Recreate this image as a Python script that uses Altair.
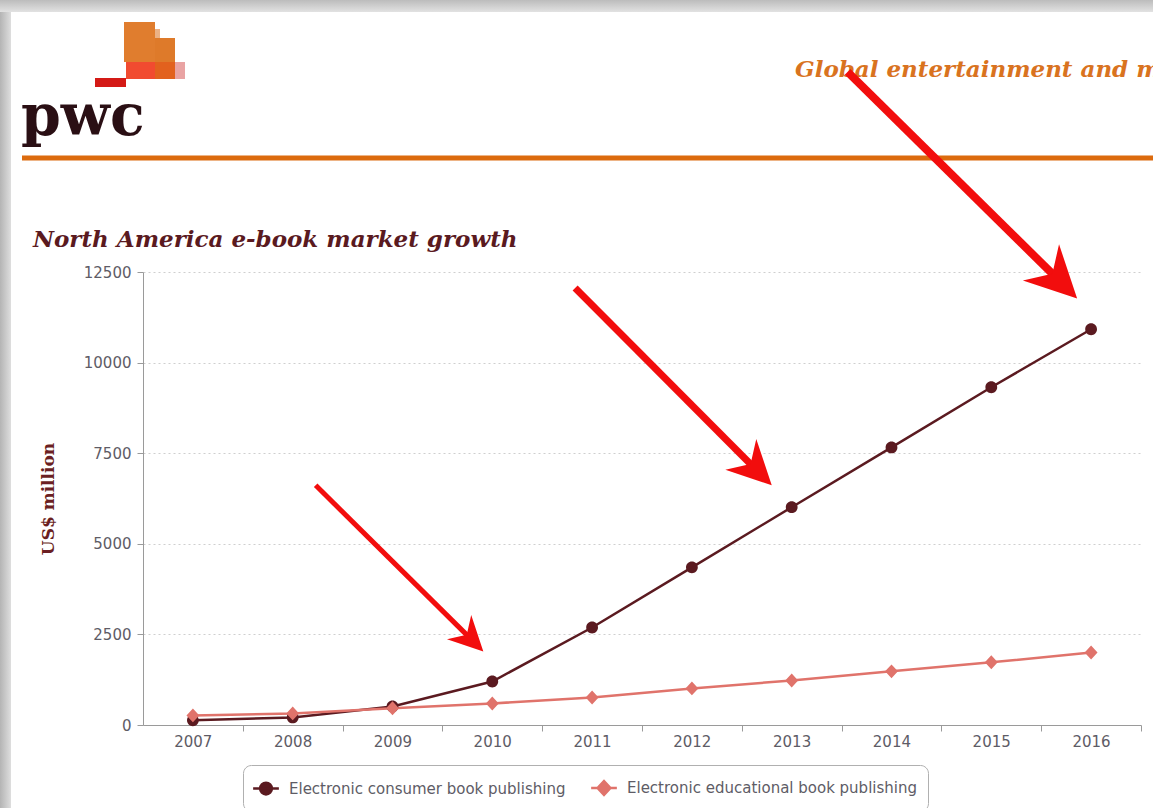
import altair as alt
import pandas as pd
import numpy as np

# ---------------- data ----------------
years = list(range(2007, 2017))
consumer = [130, 210, 510, 1200, 2690, 4350, 6010, 7660, 9320, 10920]
educational = [265, 320, 460, 595, 760, 1010, 1230, 1480, 1730, 2000]
series_names = ["Electronic consumer book publishing", "Electronic educational book publishing"]
series_colors = ["#5b1a20", "#e0736b"]
y_ticks = [0, 2500, 5000, 7500, 10000, 12500]

# annotation arrows (data coordinates: year, US$ million)
arrow_tail_year = [2008.23, 2010.83, 2013.56]
arrow_tail_value = [6615, 12056, 18022]
arrow_tip_year = [2009.91, 2012.80, 2015.86]
arrow_tip_value = [2030, 6615, 11769]
arrow_width = [5, 7, 8]
arrow_head = [1300, 2120, 2900]

title_text = "North America e-book market growth"
header_text = "Global entertainment and media outlook"
y_title = "US$ million"

# ---------------- layout ----------------
W, H = 998, 453
PAD_L, PAD_T = 143, 272
X_DOM = [2006.5, 2016.5]
Y_DOM = [0, 12500]

df = pd.DataFrame({
    "year": years * 2,
    "value": consumer + educational,
    "series": [series_names[0]] * len(years) + [series_names[1]] * len(years),
})
df["col"] = df["series"].map(dict(zip(series_names, series_colors)))

px_per_year = W / (X_DOM[1] - X_DOM[0])
val_per_px = (Y_DOM[1] - Y_DOM[0]) / H
back_px = [1.2 * np.sqrt(s) / 2 / np.sqrt(2) for s in arrow_head]
arrows = pd.DataFrame({
    "ty": arrow_tail_year,
    "tv": arrow_tail_value,
    "hy": arrow_tip_year,
    "hv": arrow_tip_value,
    "ey": [h - b / px_per_year for h, b in zip(arrow_tip_year, back_px)],
    "ev": [h + b * val_per_px for h, b in zip(arrow_tip_value, back_px)],
    "w": arrow_width,
    "s": arrow_head,
})

x_scale = alt.Scale(domain=X_DOM, nice=False, zero=False)
y_scale = alt.Scale(domain=Y_DOM, nice=False)

label_font = "DejaVu Sans"
axis_gray = "#9a9a9a"
label_gray = "#5e5c66"

x_axis = alt.Axis(
    values=[y + 0.5 for y in years],
    labelExpr="toString(datum.value - 0.5)",
    labelOffset=-50,
    title=None, grid=False,
    domainColor=axis_gray, tickColor=axis_gray, tickSize=6,
    labelFont=label_font, labelFontSize=15, labelColor=label_gray,
    labelPadding=3, labelFlush=False, labelOverlap=False, labelBound=False,
)
y_axis = alt.Axis(
    values=y_ticks, format="d", title=y_title,
    grid=True, gridDash=[2, 3], gridColor="#cfcfcf",
    domainColor=axis_gray, tickColor=axis_gray, tickSize=6,
    labelFont=label_font, labelFontSize=15, labelColor=label_gray, labelPadding=6,
    titleFont="DejaVu Serif", titleFontWeight="bold", titleFontSize=17,
    titleColor="#6b1f22", titleX=-95, titleY=H / 2, titleAngle=-90,
    titleAlign="center", titleBaseline="middle",
)

color_scale = alt.Scale(domain=series_names, range=series_colors)
shape_paths = [
    "M-1.2,0L1.2,0M0.55,0A0.55,0.55 0 1 1 -0.55,0A0.55,0.55 0 1 1 0.55,0Z",
    "M-1.2,0L1.2,0M0,-0.65L0.6,0L0,0.65L-0.6,0Z",
]
legend = alt.Legend(
    orient="none", legendX=100, legendY=493, direction="horizontal", title=None,
    strokeColor="#b0b0b0", cornerRadius=8, fillColor="white", padding=11,
    symbolSize=460, symbolStrokeWidth=2.5,
    labelFont=label_font, labelFontSize=15, labelColor=label_gray,
    columnPadding=20, labelOffset=11, labelLimit=400,
)

lines = alt.Chart(df).mark_line(strokeWidth=2.5).encode(
    x=alt.X("year:Q", scale=x_scale, axis=x_axis),
    y=alt.Y("value:Q", scale=y_scale, axis=y_axis),
    color=alt.Color("col:N", scale=None),
)
points = alt.Chart(df).mark_point(filled=False, opacity=1, size=460).encode(
    x="year:Q",
    y="value:Q",
    fill=alt.Fill("series:N", scale=color_scale, legend=legend),
    stroke=alt.Stroke("series:N", scale=color_scale, legend=legend),
    shape=alt.Shape("series:N", scale=alt.Scale(domain=series_names, range=shape_paths), legend=legend),
    strokeWidth=alt.value(0),
)

arrow_red = "#f20d0d"
shafts = alt.Chart(arrows).mark_rule(color=arrow_red, strokeCap="butt").encode(
    x="ty:Q", x2="ey:Q", y="tv:Q", y2="ev:Q",
    strokeWidth=alt.StrokeWidth("w:Q", scale=None),
)
heads = alt.Chart(arrows).mark_point(
    filled=True, color=arrow_red, opacity=1, angle=135,
    shape="M0,0L0.95,1.9L0,1.3L-0.95,1.9Z",
).encode(
    x="hy:Q", y="hv:Q", size=alt.Size("s:Q", scale=None),
)

one = pd.DataFrame({"a": [0]})


def rect(x0, x1, y0, y1, color):
    return alt.Chart(one).mark_rect(color=color).encode(
        x=alt.value(x0 - PAD_L), x2=alt.value(x1 - PAD_L),
        y=alt.value(y0 - PAD_T), y2=alt.value(y1 - PAD_T),
    )


frame_left = alt.Chart(one).mark_rect(
    color=alt.LinearGradient(gradient="linear", x1=0, x2=1, y1=0, y2=0,
                             stops=[alt.GradientStop(color="#b4b4b4", offset=0),
                                    alt.GradientStop(color="#dedede", offset=1)])
).encode(x=alt.value(-PAD_L), x2=alt.value(11 - PAD_L), y=alt.value(-PAD_T), y2=alt.value(808 - PAD_T))
frame_top = alt.Chart(one).mark_rect(
    color=alt.LinearGradient(gradient="linear", x1=0, x2=0, y1=0, y2=1,
                             stops=[alt.GradientStop(color="#bcbcbc", offset=0),
                                    alt.GradientStop(color="#e2e2e2", offset=1)])
).encode(x=alt.value(-PAD_L), x2=alt.value(1153 - PAD_L), y=alt.value(-PAD_T), y2=alt.value(12 - PAD_T))

logo = [
    rect(124, 155, 22, 62, "#e07d2e"),
    rect(155, 175, 38, 62, "#de7a2a"),
    rect(155, 160, 29, 38, "#ebb185"),
    rect(126, 155, 62, 79, "#f14b30"),
    rect(155, 175, 62, 79, "#e2611e"),
    rect(175, 185, 62, 79, "#e9a3a3"),
    rect(95, 126, 78, 87, "#d41a16"),
]

sep = alt.Chart(one).mark_rule(color="#dc6b0e", strokeWidth=5).encode(
    x=alt.value(22 - PAD_L), x2=alt.value(1153 - PAD_L), y=alt.value(158 - PAD_T)
)

pwc = alt.Chart(one).mark_text(
    font="DejaVu Serif", fontWeight="bold", fontSize=57, color="#2a0f14",
    align="left", baseline="alphabetic",
).encode(x=alt.value(21 - PAD_L), y=alt.value(135 - PAD_T), text=alt.value("pwc"))

header = alt.Chart(one).mark_text(
    font="DejaVu Serif", fontStyle="italic", fontWeight="bold", fontSize=23, color="#d9731f",
    align="left", baseline="alphabetic",
).encode(x=alt.value(795 - PAD_L), y=alt.value(77 - PAD_T), text=alt.value(header_text))

title = alt.Chart(one).mark_text(
    font="DejaVu Serif", fontStyle="italic", fontWeight="bold", fontSize=23, color="#5a1a1f",
    align="left", baseline="alphabetic",
).encode(x=alt.value(33 - PAD_L), y=alt.value(247 - PAD_T), text=alt.value(title_text))

chart = alt.layer(
    frame_left, frame_top, *logo, sep, pwc, header, title,
    lines, points, shafts, heads,
).properties(
    width=W, height=H,
    autosize=alt.AutoSizeParams(type="none"),
    padding={"left": PAD_L, "top": PAD_T, "right": 1153 - PAD_L - W, "bottom": 808 - PAD_T - H},
    background="white",
).configure_view(stroke=None)

chart.save("out.html", embed_options={"renderer": "svg", "actions": False})
